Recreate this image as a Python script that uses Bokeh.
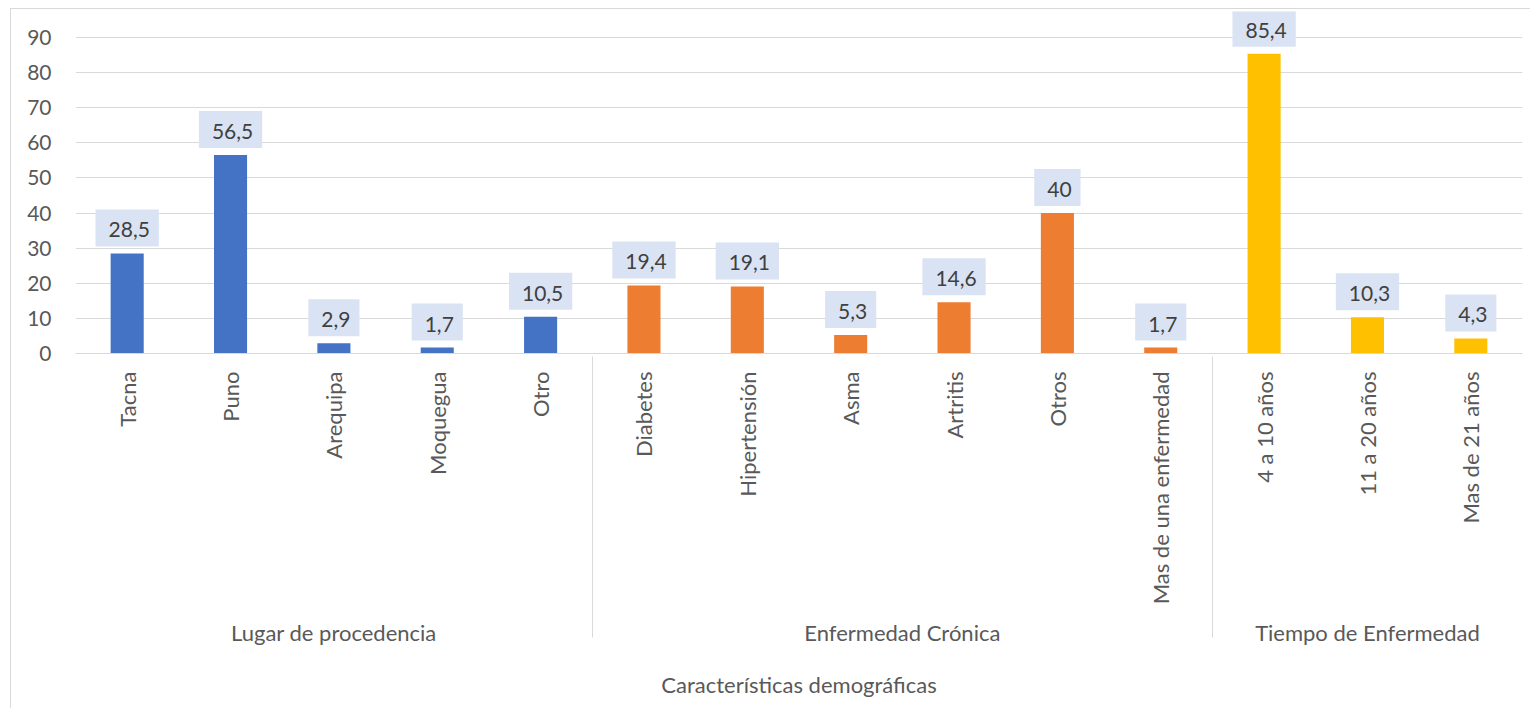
import math
from bokeh.plotting import figure
from bokeh.models import FactorRange, FixedTicker, ColumnDataSource, Range1d
from bokeh.core.properties import value
from bokeh.embed import file_html
from bokeh.resources import INLINE

groups = ["Lugar de procedencia", "Enfermedad Crónica", "Tiempo de Enfermedad"]
lugar = ["Tacna", "Puno", "Arequipa", "Moquegua", "Otro"]
lugar_vals = [28.5, 56.5, 2.9, 1.7, 10.5]
enfermedad = ["Diabetes", "Hipertensión", "Asma", "Artritis", "Otros", "Mas de una enfermedad"]
enfermedad_vals = [19.4, 19.1, 5.3, 14.6, 40, 1.7]
tiempo = ["4 a 10 años", "11 a 20 años", "Mas de 21 años"]
tiempo_vals = [85.4, 10.3, 4.3]
group_colors = ["#4472C4", "#ED7D31", "#FFC000"]
y_ticks = [0, 10, 20, 30, 40, 50, 60, 70, 80, 90]
axis_title = "Características demográficas"

FONT = "Lato"

cats = [lugar, enfermedad, tiempo]
vals = [lugar_vals, enfermedad_vals, tiempo_vals]
xs, ys, cols, lbls = [], [], [], []
for g, cl, vl, c in zip(groups, cats, vals, group_colors):
    for name, v in zip(cl, vl):
        xs.append((g, name))
        ys.append(v)
        cols.append(c)
        lbls.append(("%g" % v).replace(".", ","))

src = ColumnDataSource(dict(x=xs, y=ys, color=cols, label=lbls))

x_range = FactorRange(*xs, range_padding=0, factor_padding=0, group_padding=0)

p = figure(
    x_range=x_range,
    y_range=Range1d(0, 97.4),
    width=1520,
    height=700,
    output_backend="svg",
    toolbar_location=None,
    min_border_left=64,
    min_border_right=9,
    min_border_top=2,
    min_border_bottom=356,
)
p.styles = {
    "margin-left": "10px",
    "margin-top": "8px",
    "border-top": "1px solid #D9D9D9",
    "border-left": "1px solid #D9D9D9",
}
p.outline_line_color = None
p.background_fill_color = "white"
p.border_fill_color = "white"

p.vbar(x="x", top="y", width=0.32, source=src, fill_color="color", line_color=None)

p.text(
    x="x", y="y", text="label", source=src,
    text_align="center", text_baseline="bottom", y_offset=-7,
    text_font=value(FONT), text_font_size="21px", text_color="#404040",
    background_fill_color="#DAE3F3", padding=(13, 9, 13, 9),
)

# y axis
p.yaxis.ticker = FixedTicker(ticks=y_ticks)
p.yaxis.axis_line_color = None
p.yaxis.major_tick_line_color = None
p.yaxis.minor_tick_line_color = None
p.yaxis.major_label_standoff = 18
p.yaxis.major_label_text_font = FONT
p.yaxis.major_label_text_font_size = "21px"
p.yaxis.major_label_text_color = "#595959"
p.ygrid.ticker = FixedTicker(ticks=y_ticks)
p.ygrid.grid_line_color = "#D9D9D9"
p.ygrid.grid_line_width = 1
p.xgrid.grid_line_color = None

# x axis
xa = p.xaxis[0]
xa.axis_line_color = "#D9D9D9"
xa.axis_line_width = 1
xa.major_tick_line_color = None
xa.minor_tick_line_color = None
xa.major_label_orientation = math.pi / 2
xa.major_label_standoff = 12
xa.major_label_text_font = FONT
xa.major_label_text_font_size = "22px"
xa.major_label_text_color = "#595959"
xa.group_text_font = FONT
xa.group_text_font_size = "22px"
xa.group_text_font_style = "normal"
xa.group_text_color = "#595959"
xa.separator_line_color = "#D9D9D9"
xa.separator_line_width = 1
xa.axis_label = axis_title
xa.axis_label_text_font = FONT
xa.axis_label_text_font_size = "22px"
xa.axis_label_text_font_style = "normal"
xa.axis_label_text_color = "#595959"
xa.axis_label_standoff = 22

open("out.html", "w").write(file_html(p, INLINE))
